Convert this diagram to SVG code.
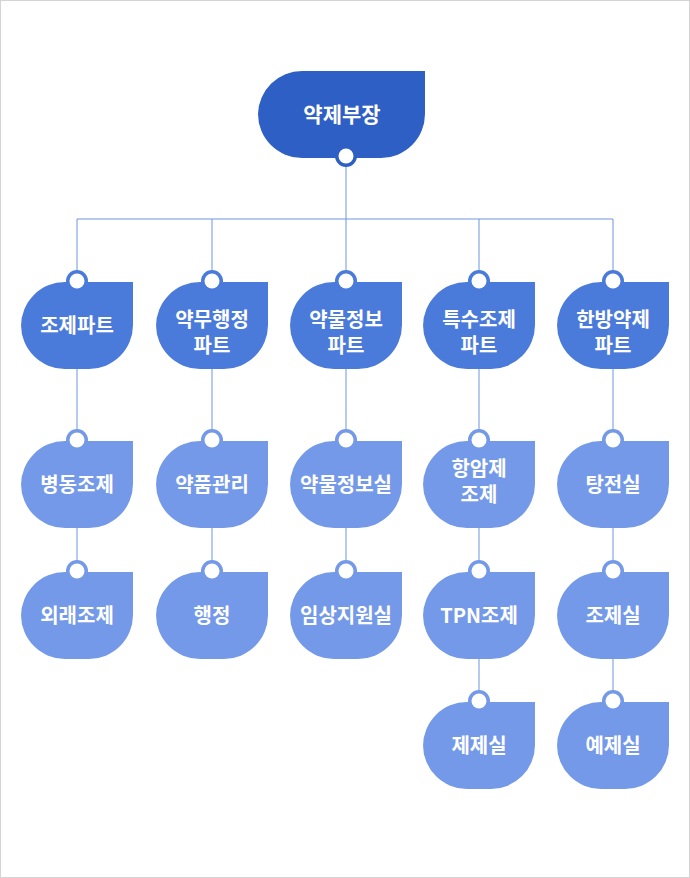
<svg xmlns="http://www.w3.org/2000/svg" xmlns:xlink="http://www.w3.org/1999/xlink" width="690" height="878" viewBox="0 0 690 878">
<style>
.t{font-family:"Noto Sans CJK KR","Noto Sans",sans-serif;font-size:20px;font-weight:bold;fill:#fff;text-anchor:middle}
.c{stroke:#6f95e0;stroke-width:1;fill:none}
.p{fill:#4a7bdb}.l{fill:#7399e8}.h{fill:#2e5fc4}
.w{fill:#fff}
</style>
<defs>
<path id="n" d="M44,0H112V43A44,44 0 0 1 68,87H44A44,44 0 0 1 0,43V44A44,44 0 0 1 44,0Z"/>
<g id="tab"><circle cx="56" cy="-1" r="11"/><circle class="w" cx="56" cy="-1" r="7.5"/></g>
</defs>
<rect x="0.5" y="0.5" width="689" height="877" fill="#fff" stroke="#d4d4d4"/>
<g id="connectors" class="c">
<path d="M346,158V219M77,219H613M77,219V272M212,219V272M346,219V272M479,219V272M613,219V272"/>
<path d="M77,369V432M77,528V563M212,369V432M212,528V563M346,369V432M346,528V563M479,369V432M479,528V563M479,659V693M613,369V432M613,528V563M613,659V693"/>
</g>
<g id="top" class="h">
<path d="M302,71H425V114A44,44 0 0 1 381,158H302A44,44 0 0 1 258,114A44,44 0 0 1 302,71Z"/>
<circle cx="346" cy="156" r="11"/><circle class="w" cx="346" cy="156" r="7.5"/>
<text class="t" x="342" y="122" style="font-size:21px">약제부장</text>
</g>
<g id="p1" class="p" transform="translate(21,282)"><use href="#n"/><use href="#tab"/><text class="t" x="56" y="51">조제파트</text></g>
<g id="p2" class="p" transform="translate(156,282)"><use href="#n"/><use href="#tab"/><text class="t" x="56" y="45">약무행정</text><text class="t" x="56" y="71">파트</text></g>
<g id="p3" class="p" transform="translate(290,282)"><use href="#n"/><use href="#tab"/><text class="t" x="56" y="45">약물정보</text><text class="t" x="56" y="71">파트</text></g>
<g id="p4" class="p" transform="translate(423,282)"><use href="#n"/><use href="#tab"/><text class="t" x="56" y="45">특수조제</text><text class="t" x="56" y="71">파트</text></g>
<g id="p5" class="p" transform="translate(557,282)"><use href="#n"/><use href="#tab"/><text class="t" x="56" y="45">한방약제</text><text class="t" x="56" y="71">파트</text></g>
<g id="a1" class="l" transform="translate(21,441)"><use href="#n"/><use href="#tab"/><text class="t" x="56" y="51">병동조제</text></g>
<g id="a2" class="l" transform="translate(156,441)"><use href="#n"/><use href="#tab"/><text class="t" x="56" y="51">약품관리</text></g>
<g id="a3" class="l" transform="translate(290,441)"><use href="#n"/><use href="#tab"/><text class="t" x="56" y="51">약물정보실</text></g>
<g id="a4" class="l" transform="translate(423,441)"><use href="#n"/><use href="#tab"/><text class="t" x="56" y="35">항암제</text><text class="t" x="56" y="61">조제</text></g>
<g id="a5" class="l" transform="translate(557,441)"><use href="#n"/><use href="#tab"/><text class="t" x="56" y="51">탕전실</text></g>
<g id="b1" class="l" transform="translate(21,572)"><use href="#n"/><use href="#tab"/><text class="t" x="56" y="51">외래조제</text></g>
<g id="b2" class="l" transform="translate(156,572)"><use href="#n"/><use href="#tab"/><text class="t" x="56" y="51">행정</text></g>
<g id="b3" class="l" transform="translate(290,572)"><use href="#n"/><use href="#tab"/><text class="t" x="56" y="51">임상지원실</text></g>
<g id="b4" class="l" transform="translate(423,572)"><use href="#n"/><use href="#tab"/><text class="t" x="56" y="51">TPN조제</text></g>
<g id="b5" class="l" transform="translate(557,572)"><use href="#n"/><use href="#tab"/><text class="t" x="56" y="51">조제실</text></g>
<g id="c4" class="l" transform="translate(423,702)"><use href="#n"/><use href="#tab"/><text class="t" x="56" y="51">제제실</text></g>
<g id="c5" class="l" transform="translate(557,702)"><use href="#n"/><use href="#tab"/><text class="t" x="56" y="51">예제실</text></g>
</svg>
